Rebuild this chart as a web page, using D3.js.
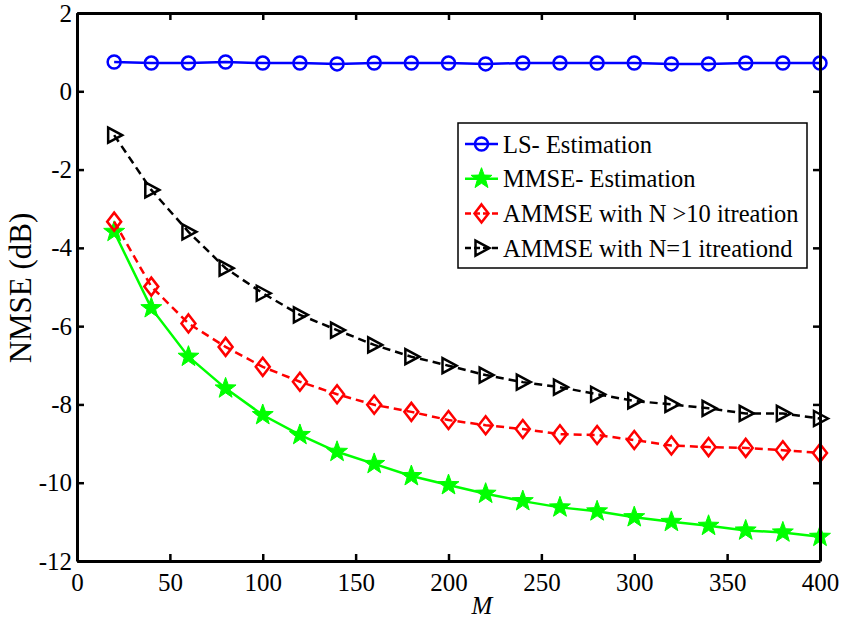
<!DOCTYPE html>
<html>
<head>
<meta charset="utf-8">
<script src="https://cdn.jsdelivr.net/npm/d3@7"></script>
<style>
  body { margin: 0; background: #fff; }
  text { font-family: "Liberation Serif", "Times New Roman", serif; fill: #000; }
</style>
</head>
<body>
<script>
// chart values
var mValues = [20, 40, 60, 80, 100, 120, 140, 160, 180, 200, 220, 240, 260, 280, 300, 320, 340, 360, 380, 400];
var lsEst = [0.75, 0.72, 0.72, 0.75, 0.72, 0.72, 0.70, 0.72, 0.72, 0.72, 0.70, 0.72, 0.72, 0.72, 0.72, 0.70, 0.70, 0.72, 0.72, 0.72];
var mmseEst = [-3.59, -5.54, -6.78, -7.59, -8.27, -8.78, -9.21, -9.52, -9.83, -10.06, -10.28, -10.47, -10.63, -10.73, -10.88, -11.0, -11.1, -11.22, -11.27, -11.38];
var ammse10 = [-3.33, -4.99, -5.93, -6.53, -7.04, -7.42, -7.74, -8.01, -8.19, -8.4, -8.53, -8.63, -8.76, -8.78, -8.91, -9.05, -9.09, -9.11, -9.17, -9.24];
var ammse1 = [-1.12, -2.52, -3.59, -4.52, -5.16, -5.71, -6.1, -6.48, -6.78, -7.01, -7.25, -7.43, -7.56, -7.74, -7.91, -8.0, -8.1, -8.23, -8.23, -8.36];
var seriesNames = ["LS- Estimation", "MMSE- Estimation", "AMMSE with N >10 itreation", "AMMSE with N=1 itreationd"];
var xTicks = [0, 50, 100, 150, 200, 250, 300, 350, 400];
var yTicks = [2, 0, -2, -4, -6, -8, -10, -12];

var W = 844, H = 620;
var m = {left: 77, right: 24, top: 13, bottom: 59};

var svg = d3.select("body").append("svg")
  .attr("width", W).attr("height", H);

var x = d3.scaleLinear().domain([0, 400]).range([m.left, W - m.right]);
var y = d3.scaleLinear().domain([-12, 2]).range([H - m.bottom, m.top]);

var series = [
  {name: seriesNames[0], vals: lsEst,   color: "#0000ff", dash: null,  marker: "circle"},
  {name: seriesNames[1], vals: mmseEst, color: "#00ff00", dash: null,  marker: "star"},
  {name: seriesNames[2], vals: ammse10, color: "#ff0000", dash: "8,5", marker: "diamond"},
  {name: seriesNames[3], vals: ammse1,  color: "#000000", dash: "8,5", marker: "triangle"}
];

// marker drawing
function drawMarker(g, type, color) {
  if (type === "circle") {
    g.append("circle").attr("r", 6.5)
      .attr("fill", "none").attr("stroke", color).attr("stroke-width", 2.5);
  } else if (type === "star") {
    var pts = [];
    for (var i = 0; i < 10; i++) {
      var r = i % 2 === 0 ? 11 : 4.5;
      var a = -Math.PI / 2 + i * Math.PI / 5;
      pts.push([r * Math.cos(a), r * Math.sin(a)]);
    }
    g.append("polygon").attr("points", pts.map(function (p) { return p.join(","); }).join(" "))
      .attr("fill", color).attr("stroke", color).attr("stroke-width", 1);
  } else if (type === "diamond") {
    g.append("polygon").attr("points", "0,-9 7,0 0,9 -7,0")
      .attr("fill", "none").attr("stroke", color).attr("stroke-width", 2.5);
  } else if (type === "triangle") {
    g.append("polygon").attr("points", "8,0 -6,-7.5 -6,7.5")
      .attr("fill", "none").attr("stroke", color).attr("stroke-width", 2.5);
  }
}

var line = d3.line()
  .x(function (d, i) { return x(mValues[i]); })
  .y(function (d) { return y(d); });

series.forEach(function (s) {
  svg.append("path").datum(s.vals)
    .attr("d", line)
    .attr("fill", "none")
    .attr("stroke", s.color)
    .attr("stroke-width", 2.5)
    .attr("stroke-dasharray", s.dash);
  s.vals.forEach(function (v, i) {
    var g = svg.append("g").attr("transform", "translate(" + x(mValues[i]) + "," + y(v) + ")");
    drawMarker(g, s.marker, s.color);
  });
});

// axes, ticks inward on all four sides; plain hyphen for negatives like the original
var tickLen = 7;
var fmt = function (d) { return String(d); };
var axB = d3.axisBottom(x).tickValues(xTicks).tickSizeInner(-tickLen).tickSizeOuter(0).tickPadding(12).tickFormat(fmt);
var axT = d3.axisTop(x).tickValues(xTicks).tickSizeInner(-tickLen).tickSizeOuter(0).tickFormat("");
var axL = d3.axisLeft(y).tickValues(yTicks).tickSizeInner(-tickLen).tickSizeOuter(0).tickPadding(5).tickFormat(fmt);
var axR = d3.axisRight(y).tickValues(yTicks).tickSizeInner(-tickLen).tickSizeOuter(0).tickFormat("");

function styleAxis(g) {
  g.selectAll("path").attr("stroke", "#000").attr("stroke-width", 3);
  g.selectAll("line").attr("stroke", "#000").attr("stroke-width", 2.5);
  g.selectAll("text").style("font-family", "'Liberation Serif', serif").style("font-size", "25px").attr("fill", "#000");
}

svg.append("g").attr("transform", "translate(0," + (H - m.bottom) + ")").call(axB).call(styleAxis);
svg.append("g").attr("transform", "translate(0," + m.top + ")").call(axT).call(styleAxis);
svg.append("g").attr("transform", "translate(" + m.left + ",0)").call(axL).call(styleAxis);
svg.append("g").attr("transform", "translate(" + (W - m.right) + ",0)").call(axR).call(styleAxis);

// axis labels
svg.append("text")
  .attr("x", 482).attr("y", 614)
  .attr("text-anchor", "middle")
  .style("font-size", "25px").style("font-style", "italic")
  .text("M");

svg.append("text")
  .attr("transform", "translate(31,288) rotate(-90)")
  .attr("text-anchor", "middle")
  .style("font-size", "31px")
  .text("NMSE (dB)");

// legend
var lg = svg.append("g").attr("transform", "translate(458,123)");
lg.append("rect").attr("width", 349).attr("height", 145)
  .attr("fill", "#fff").attr("stroke", "#000").attr("stroke-width", 1.5);
series.forEach(function (s, i) {
  var cy = 21 + i * 34.7;
  lg.append("line").attr("x1", 7).attr("x2", 40).attr("y1", cy).attr("y2", cy)
    .attr("stroke", s.color).attr("stroke-width", 2.5)
    .attr("stroke-dasharray", s.dash ? "6,3" : null);
  var g = lg.append("g").attr("transform", "translate(23.5," + cy + ")");
  drawMarker(g, s.marker, s.color);
  lg.append("text").attr("x", 45).attr("y", cy + 8.5)
    .style("font-size", "24.5px")
    .text(s.name);
});
</script>
</body>
</html>
